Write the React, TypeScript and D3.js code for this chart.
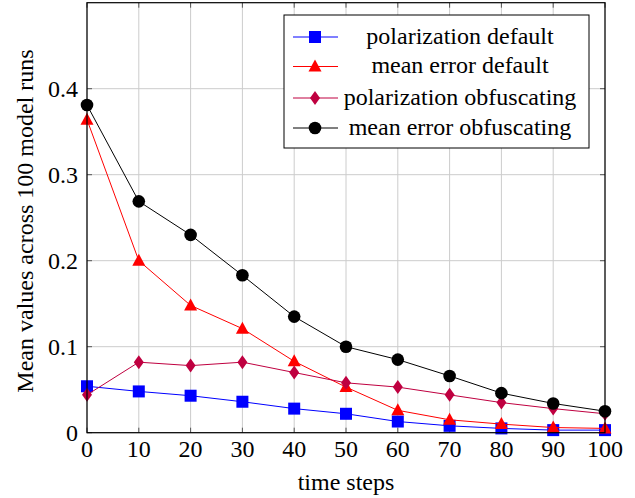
import React from 'react';
import * as d3 from 'd3';

const steps = [0, 10, 20, 30, 40, 50, 60, 70, 80, 90, 100];
const polarizationDefault = [0.054, 0.048, 0.043, 0.036, 0.028, 0.022, 0.013, 0.008, 0.005, 0.003, 0.003];
const meanErrorDefault = [0.364, 0.2, 0.148, 0.121, 0.083, 0.053, 0.026, 0.015, 0.01, 0.006, 0.005];
const polarizationObfuscating = [0.044, 0.082, 0.078, 0.082, 0.07, 0.058, 0.053, 0.044, 0.035, 0.028, 0.022];
const meanErrorObfuscating = [0.381, 0.269, 0.23, 0.183, 0.135, 0.1, 0.085, 0.066, 0.046, 0.034, 0.025];
const xTicks = [0, 10, 20, 30, 40, 50, 60, 70, 80, 90, 100];
const yTicks = [0, 0.1, 0.2, 0.3, 0.4];

const series = [
  { name: 'polarization default', values: polarizationDefault, color: '#0000ff', marker: 'square' },
  { name: 'mean error default', values: meanErrorDefault, color: '#ff0000', marker: 'triangle' },
  { name: 'polarization obfuscating', values: polarizationObfuscating, color: '#bf0040', marker: 'diamond' },
  { name: 'mean error obfuscating', values: meanErrorObfuscating, color: '#000000', marker: 'circle' }
];

const font = '"Liberation Serif", "Times New Roman", serif';
const fs = 24;

const Marker = ({ type, x, y, color }: { type: string; x: number; y: number; color: string }) => {
  if (type === 'square') return <rect x={x - 6} y={y - 6} width={12} height={12} fill={color} />;
  if (type === 'triangle')
    return <path d={`M${x},${y - 7}L${x + 6.5},${y + 5}L${x - 6.5},${y + 5}Z`} fill={color} />;
  if (type === 'diamond')
    return <path d={`M${x},${y - 7}L${x + 5},${y}L${x},${y + 7}L${x - 5},${y}Z`} fill={color} />;
  return <circle cx={x} cy={y} r={6.3} fill={color} />;
};

export default function App() {
  const width = 635;
  const height = 498;
  const left = 87, right = 605, top = 2.7, bottom = 432.7;

  const x = d3.scaleLinear().domain([0, 100]).range([left, right]);
  const y = d3.scaleLinear().domain([0, 0.5]).range([bottom, top]);

  const line = d3
    .line<number>()
    .x((_, i) => x(steps[i]))
    .y(d => y(d));

  const legendX = 284, legendY = 15, legendW = 305, legendH = 133;
  const rowY = [37, 66.5, 98, 128];

  return (
    <svg width={width} height={height} style={{ position: 'absolute', left: 0, top: 0, fontFamily: font }}>
      <rect width={width} height={height} fill="#fff" />
      {/* grid */}
      {xTicks.map(t => (
        <line key={'gx' + t} x1={x(t)} x2={x(t)} y1={top} y2={bottom} stroke="#cccccc" strokeWidth={1} />
      ))}
      {yTicks.map(t => (
        <line key={'gy' + t} x1={left} x2={right} y1={y(t)} y2={y(t)} stroke="#cccccc" strokeWidth={1} />
      ))}
      {/* ticks on all four sides */}
      {xTicks.map(t => (
        <g key={'tx' + t} stroke="#555" strokeWidth={1}>
          <line x1={x(t)} x2={x(t)} y1={bottom} y2={bottom - 5} />
          <line x1={x(t)} x2={x(t)} y1={top} y2={top + 5} />
        </g>
      ))}
      {yTicks.map(t => (
        <g key={'ty' + t} stroke="#555" strokeWidth={1}>
          <line x1={left} x2={left + 5} y1={y(t)} y2={y(t)} />
          <line x1={right} x2={right - 5} y1={y(t)} y2={y(t)} />
        </g>
      ))}
      {/* series */}
      {series.map(s => (
        <g key={s.name}>
          <path d={line(s.values) || ''} fill="none" stroke={s.color} strokeWidth={1} />
          {s.values.map((v, i) => (
            <Marker key={i} type={s.marker} x={x(steps[i])} y={y(v)} color={s.color} />
          ))}
        </g>
      ))}
      {/* frame */}
      <rect x={left} y={top} width={right - left} height={bottom - top} fill="none" stroke="#000" strokeWidth={1.2} />
      {/* tick labels */}
      {xTicks.map(t => (
        <text key={'lx' + t} x={x(t)} y={457} textAnchor="middle" fontSize={fs}>
          {t}
        </text>
      ))}
      {yTicks.map(t => (
        <text key={'ly' + t} x={78} y={y(t) + 8} textAnchor="end" fontSize={fs}>
          {t === 0 ? '0' : d3.format('.1f')(t)}
        </text>
      ))}
      <text x={346} y={490} textAnchor="middle" fontSize={fs}>
        time steps
      </text>
      <text transform="translate(33, 221) rotate(-90)" textAnchor="middle" fontSize={fs}>
        Mean values across 100 model runs
      </text>
      {/* legend */}
      <rect x={legendX} y={legendY} width={legendW} height={legendH} fill="#fff" stroke="#000" strokeWidth={1} />
      {series.map((s, i) => (
        <g key={'lg' + s.name}>
          <line x1={293} x2={338} y1={rowY[i]} y2={rowY[i]} stroke={s.color} strokeWidth={1} />
          <Marker type={s.marker} x={315} y={rowY[i]} color={s.color} />
          <text x={460} y={rowY[i] + 6.5} textAnchor="middle" fontSize={fs}>
            {s.name}
          </text>
        </g>
      ))}
    </svg>
  );
}
